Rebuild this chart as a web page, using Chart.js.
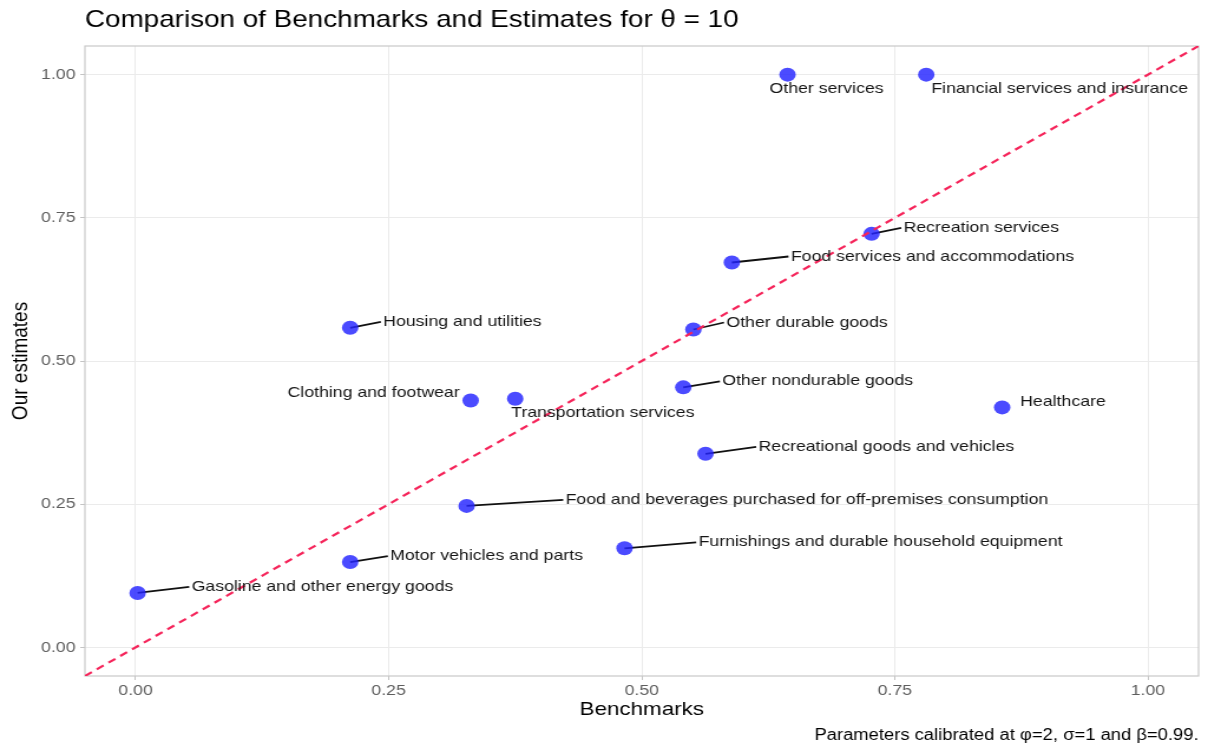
<!DOCTYPE html>
<html lang="en">
<head>
<meta charset="UTF-8">
<title>Comparison of Benchmarks and Estimates</title>
<script src="https://cdn.jsdelivr.net/npm/chart.js"></script>
<style>
  body { margin: 0; background: white; }
  #chart { display: block; width: 1208px !important; height: 749px !important; }
</style>
</head>
<body>
<canvas id="chart" width="1024" height="749" style="width:1208px;height:749px"></canvas>
<script>
const sectors = [
  "Gasoline and other energy goods",
  "Motor vehicles and parts",
  "Food and beverages purchased for off-premises consumption",
  "Furnishings and durable household equipment",
  "Clothing and footwear",
  "Transportation services",
  "Housing and utilities",
  "Recreational goods and vehicles",
  "Other nondurable goods",
  "Healthcare",
  "Other durable goods",
  "Food services and accommodations",
  "Recreation services",
  "Other services",
  "Financial services and insurance"
];
const benchmarks = [0.002, 0.212, 0.327, 0.483, 0.331, 0.375, 0.212, 0.563, 0.541, 0.856, 0.551, 0.589, 0.727, 0.644, 0.781];
const estimates  = [0.095, 0.149, 0.247, 0.173, 0.431, 0.434, 0.558, 0.338, 0.454, 0.419, 0.555, 0.672, 0.722, 1.000, 1.000];

const tickValues = [0, 0.25, 0.5, 0.75, 1];
const tickLabels = ["0.00", "0.25", "0.50", "0.75", "1.00"];
const axisMin = -0.05, axisMax = 1.05;

// where each label sits relative to its point (screen px), and whether it gets a leader line
const labelDx = [54, 40, 99, 74, -11, -4, 33, 53, 39, 18, 33, 59, 32, -18, 5];
const labelDy = [-6, -6, -6, -6, -8, 14, -6, -7, -6, -6, -7, -6, -6, 14, 14];
const leader  = [1, 1, 1, 1, 0, 0, 1, 1, 1, 0, 1, 1, 1, 0, 0];

// the canvas is drawn 1024 wide and stretched to 1208 to match the wide look of the original
const SX = 1208 / 1024;
const FONT = "'Liberation Sans', Arial, Helvetica, sans-serif";

const annotate = {
  id: "annotate",
  beforeDatasetsDraw(chart) {
    const { ctx, chartArea: a, scales: { x, y } } = chart;
    ctx.save();
    // panel border
    ctx.strokeStyle = "#c9c9c9";
    ctx.lineWidth = 1.2;
    ctx.strokeRect(a.left, a.top, a.right - a.left, a.bottom - a.top);
    // leader lines
    ctx.strokeStyle = "#111";
    ctx.lineWidth = 1.8;
    sectors.forEach((s, i) => {
      if (!leader[i]) return;
      const px = x.getPixelForValue(benchmarks[i]);
      const py = y.getPixelForValue(estimates[i]);
      ctx.beginPath();
      ctx.moveTo(px, py);
      ctx.lineTo(px + labelDx[i] / SX - 2, py + labelDy[i]);
      ctx.stroke();
    });
    ctx.restore();
  },
  afterDatasetsDraw(chart) {
    const { ctx, scales: { x, y } } = chart;
    ctx.save();
    ctx.font = "15px " + FONT;
    ctx.fillStyle = "#151515";
    ctx.textBaseline = "middle";
    sectors.forEach((s, i) => {
      const px = x.getPixelForValue(benchmarks[i]);
      const py = y.getPixelForValue(estimates[i]);
      ctx.textAlign = labelDx[i] < -5 && leader[i] === 0 && labelDy[i] < 0 ? "right" : "left";
      ctx.fillText(s, px + labelDx[i] / SX, py + labelDy[i]);
    });
    ctx.restore();
  },
  afterDraw(chart) {
    const { ctx, chartArea: a } = chart;
    ctx.save();
    ctx.fillStyle = "#000";
    ctx.textBaseline = "middle";
    ctx.font = "23.6px " + FONT;
    ctx.textAlign = "left";
    ctx.fillText("Comparison of Benchmarks and Estimates for \u03B8 = 10", a.left, 20);
    ctx.font = "15.6px " + FONT;
    ctx.textAlign = "right";
    ctx.fillText("Parameters calibrated at \u03C6=2, \u03C3=1 and \u03B2=0.99.", a.right, 736);
    ctx.restore();
  }
};

const gridOpts = { color: "#ebebeb", lineWidth: 1, drawTicks: true, tickLength: 4, tickColor: "#c4c4c4" };
const tickFont = { family: FONT, size: 15 };

new Chart(document.getElementById("chart"), {
  type: "scatter",
  data: {
    datasets: [
      {
        label: "45-degree line",
        data: [{ x: axisMin, y: axisMin }, { x: axisMax, y: axisMax }],
        showLine: true,
        borderColor: "#f5245a",
        borderWidth: 2.2,
        borderDash: [7, 5],
        pointRadius: 0,
        pointHoverRadius: 0
      },
      {
        label: "Sectors",
        data: benchmarks.map((b, i) => ({ x: b, y: estimates[i] })),
        pointRadius: 7,
        pointHoverRadius: 7,
        backgroundColor: "rgba(35,35,255,0.82)",
        borderWidth: 0
      }
    ]
  },
  options: {
    responsive: false,
    animation: false,
    layout: { padding: { top: 46, right: 8, left: 0, bottom: 0 } },
    plugins: {
      legend: { display: false },
      tooltip: { enabled: false }
    },
    scales: {
      x: {
        type: "linear",
        min: axisMin,
        max: axisMax,
        afterFit: s => { s.height = 73; },
        afterBuildTicks: s => { s.ticks = tickValues.map(v => ({ value: v })); },
        grid: gridOpts,
        border: { display: false },
        ticks: {
          font: tickFont,
          color: "#5e5e5e",
          padding: 2,
          maxRotation: 0,
          callback: v => tickLabels[tickValues.indexOf(v)]
        },
        title: {
          display: true,
          text: "Benchmarks",
          color: "#000",
          font: { family: FONT, size: 19 },
          padding: { top: 4, bottom: 28 }
        }
      },
      y: {
        type: "linear",
        min: axisMin,
        max: axisMax,
        afterFit: s => { s.width = 72; },
        afterBuildTicks: s => { s.ticks = tickValues.map(v => ({ value: v })); },
        grid: gridOpts,
        border: { display: false },
        ticks: {
          font: tickFont,
          color: "#5e5e5e",
          padding: 4,
          callback: v => tickLabels[tickValues.indexOf(v)]
        },
        title: {
          display: true,
          text: "Our estimates",
          color: "#000",
          font: { family: FONT, size: 19 },
          padding: { top: 6, bottom: 4 }
        }
      }
    }
  },
  plugins: [annotate]
});
</script>
</body>
</html>
